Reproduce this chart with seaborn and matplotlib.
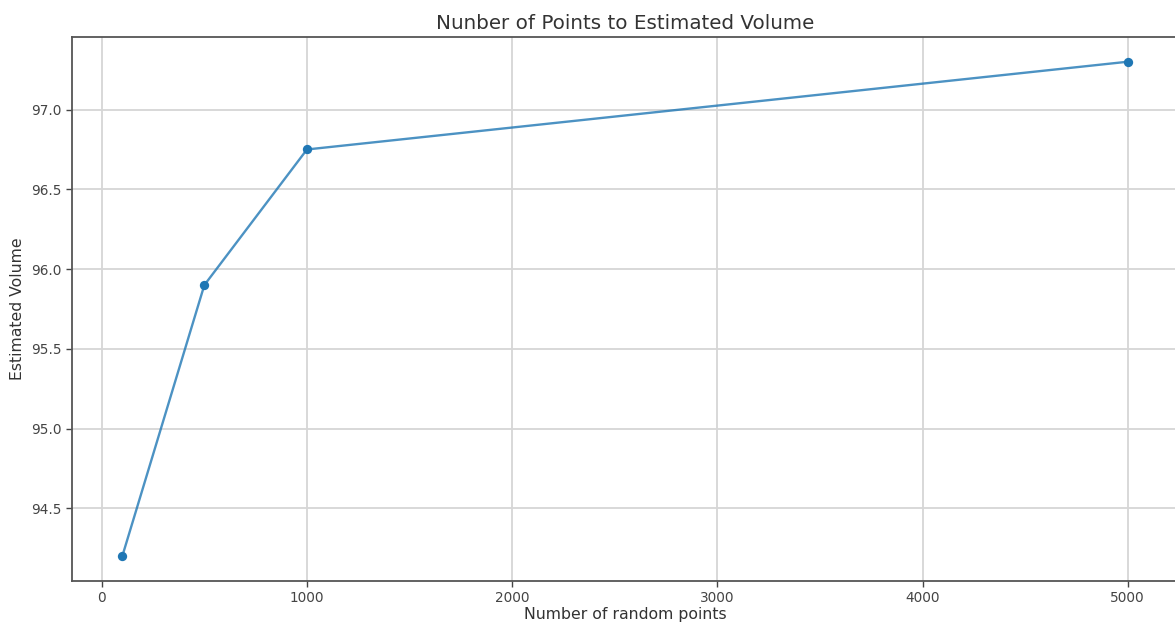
import numpy as np
import pandas as pd
from matplotlib import pyplot as plt
import seaborn as sns

n_points = [100, 500, 1000, 5000]
est_volume = [94.2, 95.9, 96.75, 97.3]

df = pd.DataFrame({"n": n_points, "vol": est_volume})

sns.set_style("white")
plt.rcParams['font.family'] = ['DejaVu Sans']

fig = plt.figure(figsize=(11.75, 6.23), dpi=100)
ax = fig.add_axes([72 / 1175, 1 - 581 / 623, 1106 / 1175, 544 / 623])

ax.grid(True, color='#d6d6d6', linewidth=1.3)
ax.set_axisbelow(True)

sns.lineplot(data=df, x="n", y="vol", ax=ax, color='#1f77b4', alpha=0.8,
             linewidth=1.7)
sns.scatterplot(data=df, x="n", y="vol", ax=ax, color='#1f77b4', s=45,
                linewidth=0, zorder=3)

ax.set_xticks([0, 1000, 2000, 3000, 4000, 5000])
ax.set_yticks([94.5, 95.0, 95.5, 96.0, 96.5, 97.0])
ax.set_xlim(-145, 5245)
ax.set_ylim(94.045, 97.455)
ax.tick_params(axis='both', labelsize=9.8, colors='#444444', length=4, width=1,
               bottom=True, left=True)
for s in ax.spines.values():
    s.set_color('#555555')
    s.set_linewidth(1.3)

ax.set_title("Nunber of Points to Estimated Volume", fontsize=14.3, color='#333333')
ax.set_xlabel("Number of random points", fontsize=11.3, color='#333333', labelpad=1.5)
ax.set_ylabel("Estimated Volume", fontsize=11.3, color='#333333')

plt.savefig("out.png", dpi=100)
